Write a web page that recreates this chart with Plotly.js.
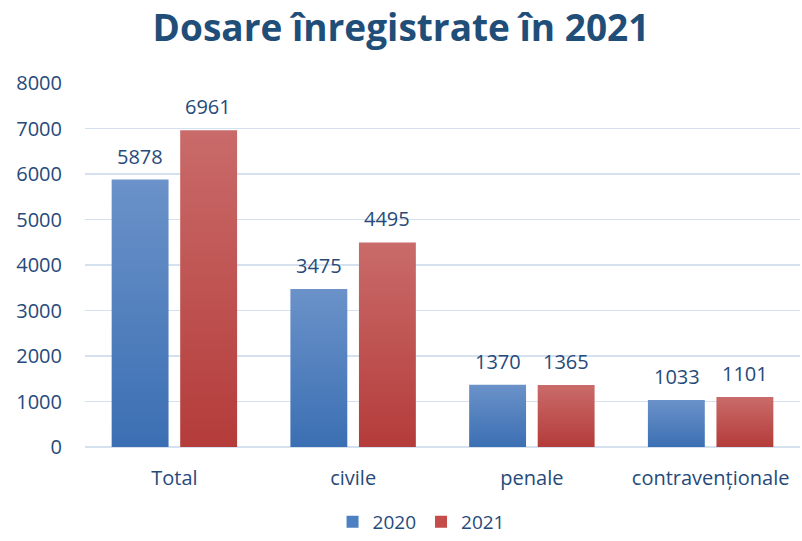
<!DOCTYPE html>
<html>
<head>
<meta charset="utf-8">
<script src="https://cdn.plot.ly/plotly-3.0.1.min.js"></script>
<style>html,body{margin:0;padding:0;background:#fff}#chart{width:802px;height:541px}</style>
</head>
<body>
<div id="chart"></div>
<script>
const categories = ["Total", "civile", "penale", "contravenționale"];
const values2020 = [5878, 3475, 1370, 1033];
const values2021 = [6961, 4495, 1365, 1101];
const seriesNames = ["2020", "2021"];
const yTicks = [0, 1000, 2000, 3000, 4000, 5000, 6000, 7000, 8000];

const textColor = "#264a7a";
const fontFam = "'Open Sans', 'Noto Sans', sans-serif";

const traces = [
  {type: "bar", name: seriesNames[0], x: categories, y: values2020,
   marker: {color: "#4d80c2"}, hoverinfo: "x+y"},
  {type: "bar", name: seriesNames[1], x: categories, y: values2021,
   marker: {color: "#c44d4a"}, hoverinfo: "x+y"}
];

const annotations = [];
[values2020, values2021].forEach((vals, si) => {
  vals.forEach((v, i) => {
    annotations.push({x: categories[i], y: v, xref: "x", yref: "y", text: String(v),
      showarrow: false, xanchor: "center", yanchor: "bottom", xshift: si === 0 ? -34 : 34, yshift: 8,
      font: {size: 20, color: textColor, family: fontFam}});
  });
});

const layout = {
  width: 802, height: 541,
  margin: {l: 85, r: 2, t: 83, b: 94, autoexpand: false},
  paper_bgcolor: "#fff", plot_bgcolor: "#fff",
  font: {family: fontFam, color: textColor, size: 20},
  title: {text: "<b>Dosare înregistrate în 2021</b>", x: 0.5, xanchor: "center",
          yref: "container", y: 0.948, yanchor: "middle",
          font: {size: 37, color: "#1f4e79", family: fontFam}},
  barmode: "group", bargap: 0.233, bargroupgap: 0.17,
  xaxis: {tickfont: {size: 20, color: textColor}, showline: false, ticks: "", ticklabelstandoff: 17},
  yaxis: {range: [0, 8000], tickvals: yTicks, ticktext: yTicks.map(String),
          tickfont: {size: 20, color: textColor}, gridcolor: "#d6e1f0", gridwidth: 1.5,
          zeroline: true, zerolinecolor: "#d6e1f0", zerolinewidth: 1.5, ticks: "", ticklabelstandoff: 22},
  legend: {orientation: "h", x: 0.47, xanchor: "center", yref: "container", y: 0, yanchor: "bottom",
           itemwidth: 30, font: {size: 19, color: textColor}},
  annotations: annotations,
  showlegend: true
};

Plotly.newPlot("chart", traces, layout, {displayModeBar: false, staticPlot: true}).then(gd => {
  const svg = gd.querySelector("svg.main-svg");
  const ns = "http://www.w3.org/2000/svg";
  let defs = svg.querySelector("defs");
  const grads = [["gBlue", "#6b92c9", "#3b6fb3"], ["gRed", "#c96b6a", "#b43c3a"]];
  grads.forEach(([id, c1, c2]) => {
    const lg = document.createElementNS(ns, "linearGradient");
    lg.setAttribute("id", id); lg.setAttribute("x1", "0"); lg.setAttribute("y1", "0");
    lg.setAttribute("x2", "0"); lg.setAttribute("y2", "1");
    [[0, c1], [1, c2]].forEach(([o, c]) => {
      const s = document.createElementNS(ns, "stop");
      s.setAttribute("offset", o); s.setAttribute("stop-color", c); lg.appendChild(s);
    });
    defs.appendChild(lg);
  });
  gd.querySelectorAll(".barlayer .trace").forEach((tr, i) => {
    tr.querySelectorAll("path").forEach(p => { p.style.fill = i === 0 ? "url(#gBlue)" : "url(#gRed)"; });
  });
});
</script>
</body>
</html>
